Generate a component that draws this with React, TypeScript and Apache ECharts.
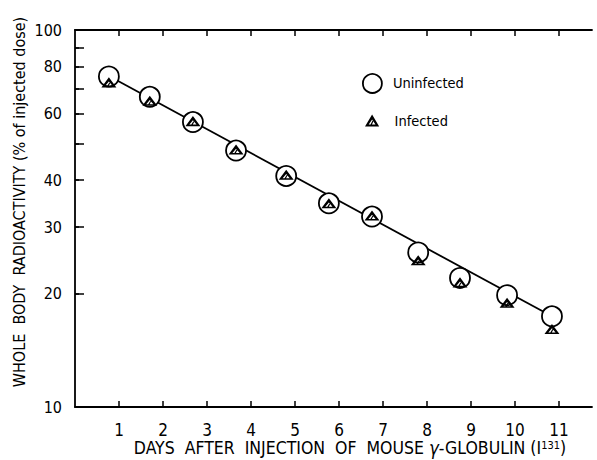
import { useEffect, useRef } from 'react';
import * as echarts from 'echarts';

const days = [0.77, 1.7, 2.68, 3.66, 4.8, 5.77, 6.75, 7.8, 8.75, 9.82, 10.84];
const uninfected = [75.3, 66.5, 57.0, 47.9, 41.0, 34.7, 32.0, 25.7, 22.0, 19.8, 17.4];
const infected = [72.6, 64.9, 57.3, 48.2, 41.3, 34.7, 32.2, 24.5, 21.4, 18.9, 16.1];
const fitDays = [0.77, 10.84];
const fitValues = [75.5, 17.4];
const xTickValues = [1, 2, 3, 4, 5, 6, 7, 8, 9, 10, 11];
const yLabelValues = [10, 20, 30, 40, 60, 80, 100];
const yTickValues = [20, 30, 40, 50, 60, 70, 80, 90];

const FONT = "'Liberation Sans Narrow', 'DejaVu Sans Condensed', 'Liberation Sans', sans-serif";
const TRI =
  'path://M6.5 0 L13 11 L0 11 Z M6.5 4.6 L3.4 9.2 L9.6 9.2 Z M5.1 9.2 L6.4 9.2 L7.6 6.4 L6.9 5.6 Z';

export default function App() {
  const ref = useRef<HTMLDivElement>(null);
  useEffect(() => {
    if (!ref.current) return;
    const chart = echarts.init(ref.current, undefined, { renderer: 'svg' });
    const black = '#000';
    const xRange = { min: 0, max: 11.75 };
    chart.setOption({
      animation: false,
      backgroundColor: '#fff',
      textStyle: { fontFamily: FONT, color: black },
      grid: { left: 75, top: 30, width: 517, height: 377, containLabel: false, outerBoundsMode: 'none' },
      legend: [
        {
          data: [{ name: 'Uninfected', icon: 'circle', itemStyle: { color: '#fff', borderColor: black, borderWidth: 1.8 } }],
          left: 357,
          top: 68,
          itemWidth: 19,
          itemHeight: 19,
          selectedMode: false,
          textStyle: { fontFamily: FONT, fontSize: 14.5, color: black, padding: [0, 0, 0, 6] },
        },
        {
          data: [{ name: 'Infected', icon: TRI, itemStyle: { color: black, borderWidth: 0 } }],
          left: 360,
          top: 108,
          itemWidth: 15,
          itemHeight: 12,
          selectedMode: false,
          textStyle: { fontFamily: FONT, fontSize: 14.5, color: black, padding: [0, 0, 0, 10] },
        },
      ],
      graphic: [
        {
          type: 'text',
          x: 19,
          y: 202,
          rotation: Math.PI / 2,
          style: {
            text: 'WHOLE  BODY  RADIOACTIVITY (% of injected dose)',
            fontFamily: FONT,
            fontSize: 16,
            fill: black,
            align: 'center',
            verticalAlign: 'middle',
          },
        },
        {
          type: 'text',
          x: 350,
          y: 448,
          style: {
            text: '{t|DAYS  AFTER  INJECTION  OF  MOUSE }{g|γ}{t|-GLOBULIN (}{t|I}{s|131}{t|)}',
            align: 'center',
            verticalAlign: 'middle',
            rich: {
              t: { fontSize: 17.5, fontFamily: FONT, fill: black, lineHeight: 17 },
              g: { fontSize: 18.5, fontStyle: 'italic', fontFamily: FONT, fill: black, lineHeight: 17 },
              s: { fontSize: 11, fontFamily: FONT, fill: black, verticalAlign: 'top', lineHeight: 11 },
            },
          },
        },
      ],
      xAxis: [
        {
          type: 'value',
          position: 'bottom',
          ...xRange,
          axisLine: { lineStyle: { color: black, width: 1.8 } },
          axisTick: { inside: true, length: 6, customValues: xTickValues, lineStyle: { color: black, width: 1.5 } },
          axisLabel: { customValues: xTickValues, margin: 14, fontSize: 17, color: black, fontFamily: FONT },
          splitLine: { show: false },
        },
        {
          type: 'value',
          position: 'top',
          ...xRange,
          axisLine: { lineStyle: { color: black, width: 1.8 } },
          axisTick: { inside: true, length: 6, customValues: xTickValues, lineStyle: { color: black, width: 1.5 } },
          axisLabel: { show: false },
          splitLine: { show: false },
        },
      ],
      yAxis: [
        {
          type: 'log',
          logBase: 10,
          position: 'left',
          min: 10,
          max: 100,
          axisLine: { show: true, lineStyle: { color: black, width: 1.8 } },
          axisTick: { show: true, inside: true, length: 9, customValues: yTickValues, lineStyle: { color: black, width: 1.5 } },
          axisLabel: { customValues: yLabelValues, margin: 13, fontSize: 16, color: black, fontFamily: FONT },
          splitLine: { show: false },
          minorTick: { show: false },
        },
        {
          type: 'log',
          logBase: 10,
          position: 'right',
          min: 10,
          max: 100,
          axisLine: { show: false },
          axisTick: { show: true, inside: false, length: 4, customValues: yTickValues, lineStyle: { color: black, width: 1.5 } },
          axisLabel: { show: false },
          splitLine: { show: false },
          minorTick: { show: false },
        },
      ],
      series: [
        {
          name: 'Fit',
          type: 'line',
          data: fitDays.map((d, i) => [d, fitValues[i]]),
          symbol: 'none',
          lineStyle: { color: black, width: 1.8 },
          z: 1,
          silent: true,
        },
        {
          name: 'Uninfected',
          type: 'scatter',
          data: days.map((d, i) => [d, uninfected[i]]),
          symbol: 'circle',
          symbolSize: 20,
          itemStyle: { color: '#fff', borderColor: black, borderWidth: 1.8, opacity: 1 },
          z: 2,
        },
        {
          name: 'Infected',
          type: 'scatter',
          data: days.map((d, i) => [d, infected[i]]),
          symbol: TRI,
          symbolSize: [15, 12],
          symbolKeepAspect: true,
          itemStyle: { color: black, opacity: 1 },
          z: 3,
        },
      ],
    });
    return () => chart.dispose();
  }, []);
  return <div ref={ref} style={{ width: 597, height: 460, position: 'absolute', left: 0, top: 0 }} />;
}
